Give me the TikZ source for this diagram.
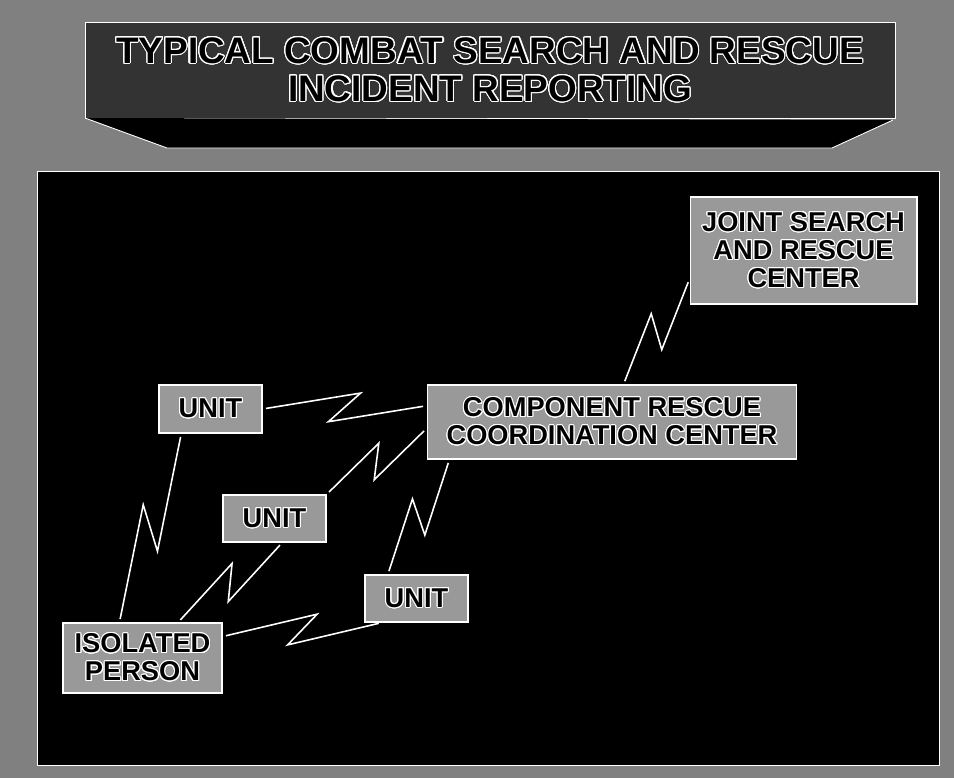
\documentclass[tikz,border=0pt]{standalone}
\usepackage{fontspec}
\setmainfont{Liberation Sans}
\usepackage{contour}
\contourlength{0.6pt}
\contournumber{24}
\usetikzlibrary{calc}

\newcommand{\olw}[1]{\contour{white}{#1}}

\begin{document}
\begin{tikzpicture}[
            x=0.02cm,
            y=-0.02cm,
            box/.style={
                draw=white,
                line width=0.6pt,
                fill=black!40,
                inner sep=0pt,
                align=center,
                font={\fontsize{15.5}{16}\selectfont\bfseries}
            },
            bolt/.style={
                draw=white,
                line width=0.9pt,
                line join=miter,
                shorten <=2pt,
                shorten >=2pt
            },
            frame/.style={
                draw=white,
                line width=0.5pt
            }
        ]

            % Page and backdrop
            \useasboundingbox (0,0) rectangle (954,778);
            \fill[black!50] (0,0) rectangle (954,778);

            % Title banner with its shelf
            \draw[frame, fill=black!80] (85,22) rectangle (895,118);
            \draw[frame, fill=black] (85,118) -- (167,148) -- (832,148) -- (893,120);
            \node[align=center, font={\fontsize{21}{21.6}\selectfont\bfseries}] (title) at (490,70)
                {\olw{TYPICAL COMBAT SEARCH AND RESCUE}\\\olw{INCIDENT REPORTING}};

            % Dark panel
            \draw[frame, fill=black] (37,171) rectangle (939,765);

            % Boxes
            \node[box, minimum width=4.54cm, minimum height=2.14cm] (jsrc) at (803.5,250.5)
                {\olw{JOINT SEARCH}\\\olw{AND RESCUE}\\\olw{CENTER}};
            \node[box, minimum width=7.4cm, minimum height=1.48cm] (crcc) at (612,422)
                {\olw{COMPONENT RESCUE}\\\olw{COORDINATION CENTER}};
            \node[box, minimum width=2.06cm, minimum height=0.96cm] (u1) at (210.5,409) {\olw{UNIT}};
            \node[box, minimum width=2.06cm, minimum height=0.94cm] (u2) at (274.5,518.5) {\olw{UNIT}};
            \node[box, minimum width=2.06cm, minimum height=0.94cm] (u3) at (416.5,598.5) {\olw{UNIT}};
            \node[box, minimum width=3.18cm, minimum height=1.4cm] (ip) at (142.5,658)
                {\olw{ISOLATED}\\\olw{PERSON}};

            % Radio links (zigzag)
            \foreach \a/\b in {u1.east/crcc.175, u2.north east/crcc.182, u3.140/crcc.193,
                               u1.220/ip.123, u2.288/ip.45, ip.15/u3.215, crcc.73/jsrc.194} {
                \draw[bolt] (\a) -- ($(\a)!0.6!(\b)!0.28cm!90:(\b)$)
                    -- ($(\a)!0.4!(\b)!0.28cm!-90:(\b)$) -- (\b);
            }

        \end{tikzpicture}
\end{document}
